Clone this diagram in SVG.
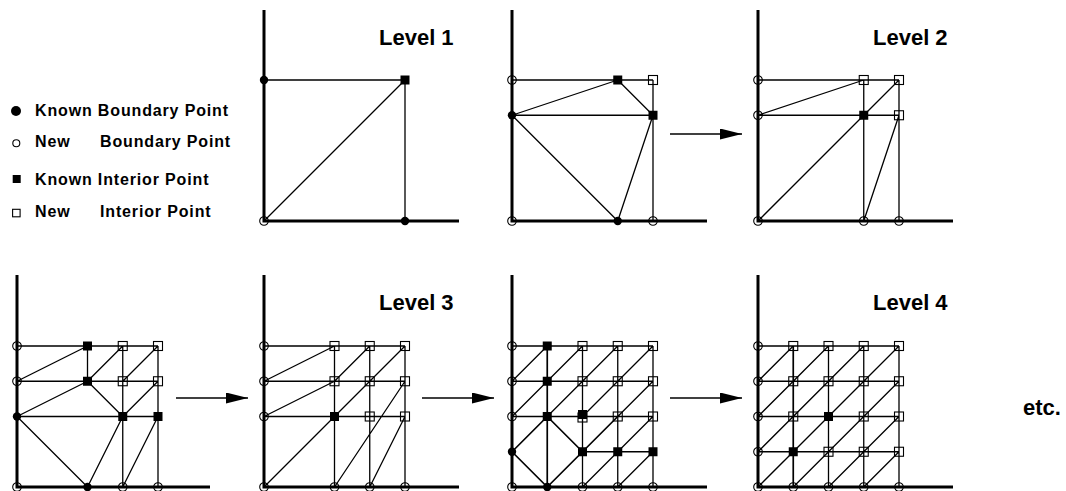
<svg xmlns="http://www.w3.org/2000/svg" xmlns:xlink="http://www.w3.org/1999/xlink" width="1066" height="491" viewBox="0 0 1066 491">
<style>
.ax{stroke:#000;stroke-width:3;fill:none}
.e{stroke:#000;stroke-width:1.3;fill:none;stroke-linejoin:round}
.t{stroke-width:1.7}
.arr{stroke:#000;stroke-width:1.6;fill:none}
.lg{font-family:"Liberation Sans",Arial,sans-serif;font-weight:bold;font-size:16px;letter-spacing:0.85px;fill:#000}
.lv{font-family:"Liberation Sans",Arial,sans-serif;font-weight:bold;font-size:22px;fill:#000}
</style>
<defs>
<circle id="oc" r="4.3" fill="none" stroke="#000" stroke-width="1.1"/>
<circle id="fc" r="4.2" fill="#000"/>
<rect id="os" x="-4.5" y="-4.5" width="9" height="9" fill="none" stroke="#000" stroke-width="1.1"/>
<rect id="fs" x="-4.5" y="-4.5" width="9" height="9" fill="#000"/>
<marker id="ah" markerUnits="userSpaceOnUse" markerWidth="23" markerHeight="12" refX="22" refY="5.5" orient="auto">
<path d="M0,0 L22,5.5 L0,11 Z" fill="#000"/>
</marker>
</defs>
<rect width="1066" height="491" fill="#fff"/>

<g id="legend">
<circle cx="16" cy="111" r="5" fill="#000"/>
<text class="lg" x="35" y="116">Known Boundary Point</text>
<circle cx="16.3" cy="143.3" r="3.5" fill="none" stroke="#000" stroke-width="1.1"/>
<text class="lg" y="147"><tspan x="35">New</tspan><tspan x="100">Boundary Point</tspan></text>
<rect x="12.7" y="175" width="8" height="8" fill="#000"/>
<text class="lg" x="35" y="185">Known Interior Point</text>
<rect x="12.6" y="209.3" width="7.5" height="7.5" fill="none" stroke="#000" stroke-width="1.1"/>
<text class="lg" y="217"><tspan x="35">New</tspan><tspan x="100">Interior Point</tspan></text>
</g>

<g id="labels">
<text class="lv" x="379" y="45">Level 1</text>
<text class="lv" x="873" y="45">Level 2</text>
<text class="lv" x="379" y="310">Level 3</text>
<text class="lv" x="873" y="310">Level 4</text>
<text class="lv" x="1023" y="415">etc.</text>
</g>

<g id="connectors">
<line class="arr" x1="670" y1="134" x2="742" y2="134" marker-end="url(#ah)"/>
<line class="arr" x1="176" y1="398" x2="248" y2="398" marker-end="url(#ah)"/>
<line class="arr" x1="422" y1="398" x2="494" y2="398" marker-end="url(#ah)"/>
<line class="arr" x1="670" y1="398" x2="742" y2="398" marker-end="url(#ah)"/>
</g>

<g id="panel-level1" transform="translate(264,221)">
<path class="ax" d="M0,-211 V0 H195"/>
<path class="e" d="M0,-141 H141 V0 M0,0 L141,-141"/>
<use href="#fc" x="0" y="-141"/><use href="#fs" x="141" y="-141"/>
<use href="#fc" x="141" y="0"/><use href="#oc" x="0" y="0"/>
</g>

<g id="panel-level1b" transform="translate(512,221)">
<path class="ax" d="M0,-211 V0 H195"/>
<path class="e" d="M0,-141 H141 M0,-105.75 H141 M141,-141 V0 M0,-105.75 L105.75,-141 L141,-105.75 L105.75,0 L0,-105.75"/>
<use href="#oc" x="0" y="-141"/><use href="#fs" x="105.75" y="-141"/><use href="#os" x="141" y="-141"/>
<use href="#fc" x="0" y="-105.75"/><use href="#fs" x="141" y="-105.75"/>
<use href="#oc" x="0" y="0"/><use href="#fc" x="105.75" y="0"/><use href="#oc" x="141" y="0"/>
</g>

<g id="panel-level2" transform="translate(758,221)">
<path class="ax" d="M0,-211 V0 H195"/>
<path class="e" d="M0,-141 H141 M0,-105.75 H141 M105.75,-141 V0 M141,-141 V0 M0,-105.75 L105.75,-141 M0,0 L141,-141 M105.75,0 L141,-105.75"/>
<use href="#oc" x="0" y="-141"/><use href="#os" x="105.75" y="-141"/><use href="#os" x="141" y="-141"/>
<use href="#oc" x="0" y="-105.75"/><use href="#fs" x="105.75" y="-105.75"/><use href="#os" x="141" y="-105.75"/>
<use href="#oc" x="0" y="0"/><use href="#oc" x="105.75" y="0"/><use href="#oc" x="141" y="0"/>
</g>

<g id="panel-level2b" transform="translate(17,487)">
<path class="ax" d="M0,-212 V0 H193"/>
<path class="e" d="M0,-141 H141 M0,-105.75 H141 M0,-70.5 H141 M70.5,-141 V-105.75 M105.75,-141 V0 M141,-141 V0 M0,-105.75 L70.5,-141 M0,-70.5 L70.5,-105.75 L105.75,-141 M70.5,-105.75 L105.75,-70.5 M105.75,-105.75 L141,-141 M105.75,-70.5 L141,-105.75 M0,-70.5 L70.5,0 L105.75,-70.5 M105.75,0 L141,-70.5"/>
<use href="#oc" x="0" y="-141"/><use href="#oc" x="0" y="-105.75"/><use href="#fc" x="0" y="-70.5"/><use href="#oc" x="0" y="0"/>
<use href="#fs" x="70.5" y="-141"/><use href="#fs" x="70.5" y="-105.75"/><use href="#fc" x="70.5" y="0"/>
<use href="#os" x="105.75" y="-141"/><use href="#os" x="105.75" y="-105.75"/><use href="#fs" x="105.75" y="-70.5"/><use href="#oc" x="105.75" y="0"/>
<use href="#os" x="141" y="-141"/><use href="#os" x="141" y="-105.75"/><use href="#fs" x="141" y="-70.5"/><use href="#oc" x="141" y="0"/>
</g>

<g id="panel-level3" transform="translate(264,487)">
<path class="ax" d="M0,-212 V0 H195"/>
<path class="e" d="M0,-141 H141 M0,-105.75 H141 M0,-70.5 H141 M70.5,-141 V0 M105.75,-141 V0 M141,-141 V0 M0,-105.75 L70.5,-141 M0,-70.5 L70.5,-105.75 L105.75,-141 M0,0 L141,-141 M70.5,0 L141,-105.75 M105.75,0 L141,-70.5"/>
<use href="#oc" x="0" y="-141"/><use href="#oc" x="0" y="-105.75"/><use href="#oc" x="0" y="-70.5"/><use href="#oc" x="0" y="0"/>
<use href="#os" x="70.5" y="-141"/><use href="#os" x="70.5" y="-105.75"/><use href="#fs" x="70.5" y="-70.5"/><use href="#oc" x="70.5" y="0"/>
<use href="#os" x="105.75" y="-141"/><use href="#os" x="105.75" y="-105.75"/><use href="#os" x="105.75" y="-70.5"/><use href="#oc" x="105.75" y="0"/>
<use href="#os" x="141" y="-141"/><use href="#os" x="141" y="-105.75"/><use href="#os" x="141" y="-70.5"/><use href="#oc" x="141" y="0"/>
</g>

<g id="panel-level3b" transform="translate(512,487)">
<path class="ax" d="M0,-212 V0 H195"/>
<path class="e" d="M0,-141 H141 M0,-105.75 H141 M0,-70.5 H141 M70.5,-141 V0 M105.75,-141 V0 M141,-141 V0 M0,-105.75 L35.25,-141 M0,-70.5 L70.5,-141 M35.25,-70.5 L105.75,-141 M70.5,-70.5 L141,-141 M105.75,-70.5 L141,-105.75 M70.5,0 L141,-70.5 M105.75,0 L141,-35.25"/>
<path class="e t" d="M70.5,-35.25 H141 M35.25,-141 V0 M0,-35.25 L35.25,-70.5 L70.5,-35.25 L105.75,-70.5 M0,-35.25 L35.25,0 L70.5,-35.25"/>
<use href="#oc" x="0" y="-141"/><use href="#oc" x="0" y="-105.75"/><use href="#oc" x="0" y="-70.5"/><use href="#fc" x="0" y="-35.25"/><use href="#oc" x="0" y="0"/>
<use href="#fs" x="35.25" y="-141"/><use href="#fs" x="35.25" y="-105.75"/><use href="#fs" x="35.25" y="-70.5"/><use href="#fc" x="35.25" y="0"/>
<use href="#os" x="70.5" y="-141"/><use href="#os" x="70.5" y="-105.75"/><use href="#fs" x="70.5" y="-72.5"/><use href="#os" x="70.5" y="-69.5"/><use href="#fs" x="70.5" y="-35.25"/><use href="#oc" x="70.5" y="0"/>
<use href="#os" x="105.75" y="-141"/><use href="#os" x="105.75" y="-105.75"/><use href="#os" x="105.75" y="-70.5"/><use href="#fs" x="105.75" y="-35.25"/><use href="#oc" x="105.75" y="0"/>
<use href="#os" x="141" y="-141"/><use href="#os" x="141" y="-105.75"/><use href="#os" x="141" y="-70.5"/><use href="#fs" x="141" y="-35.25"/><use href="#oc" x="141" y="0"/>
</g>

<g id="panel-level4" transform="translate(758,487)">
<path class="ax" d="M0,-212 V0 H195"/>
<path class="e" d="M0,-141 H141 M0,-105.75 H141 M0,-70.5 H141 M70.5,-35.25 H141 M70.5,-141 V0 M105.75,-141 V0 M141,-141 V0 M0,-105.75 L35.25,-141 M0,-70.5 L70.5,-141 M0,-35.25 L105.75,-141 M0,0 L141,-141 M35.25,0 L141,-105.75 M70.5,0 L141,-70.5 M105.75,0 L141,-35.25"/>
<path class="e t" d="M0,-35.25 H70.5 M35.25,-141 V0"/>
<use href="#oc" x="0" y="-141"/><use href="#oc" x="0" y="-105.75"/><use href="#oc" x="0" y="-70.5"/><use href="#oc" x="0" y="-35.25"/><use href="#oc" x="0" y="0"/>
<use href="#os" x="35.25" y="-141"/><use href="#os" x="35.25" y="-105.75"/><use href="#os" x="35.25" y="-70.5"/><use href="#fs" x="35.25" y="-35.25"/><use href="#oc" x="35.25" y="0"/>
<use href="#os" x="70.5" y="-141"/><use href="#os" x="70.5" y="-105.75"/><use href="#fs" x="70.5" y="-70.5"/><use href="#os" x="70.5" y="-35.25"/><use href="#oc" x="70.5" y="0"/>
<use href="#os" x="105.75" y="-141"/><use href="#os" x="105.75" y="-105.75"/><use href="#os" x="105.75" y="-70.5"/><use href="#os" x="105.75" y="-35.25"/><use href="#oc" x="105.75" y="0"/>
<use href="#os" x="141" y="-141"/><use href="#os" x="141" y="-105.75"/><use href="#os" x="141" y="-70.5"/><use href="#os" x="141" y="-35.25"/><use href="#oc" x="141" y="0"/>
</g>
</svg>
